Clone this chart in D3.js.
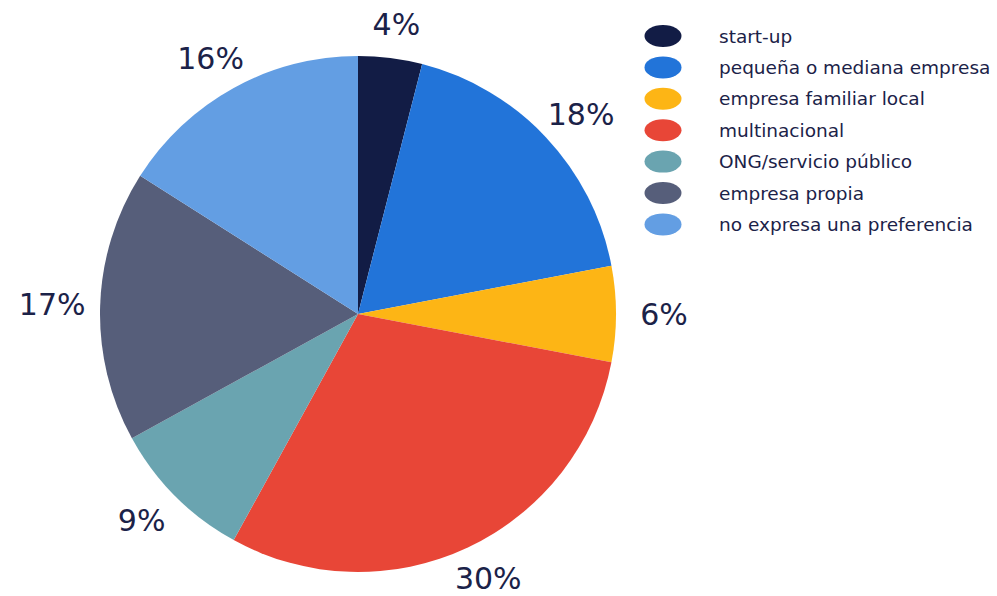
<!DOCTYPE html>
<html>
<head>
<meta charset="utf-8">
<script src="https://cdn.jsdelivr.net/npm/d3@7"></script>
<style>
  body { margin: 0; background: #fff; }
  text { font-family: "DejaVu Sans", Verdana, sans-serif; fill: #1b2248; }
</style>
</head>
<body>
<div id="chart"></div>
<script>
var categories = ["start-up", "pequeña o mediana empresa", "empresa familiar local", "multinacional",
                  "ONG/servicio público", "empresa propia", "no expresa una preferencia"]
var values = [4, 18, 6, 30, 9, 17, 16]
var colors = ["#121c45", "#2274d9", "#fdb515", "#e84637", "#6aa4b0", "#565e7a", "#639ee3"]

var svgSize = { width: 997, height: 596 }

var svg = d3.select("#chart")
    .append("svg")
    .attr("width", svgSize.width)
    .attr("height", svgSize.height)

var center = { x: 358, y: 314 }
var radius = 258

var data = categories.map((c, i) => ({ name: c, value: values[i], color: colors[i] }))

var pie = d3.pie().sort(null).value(d => d.value)
var arc = d3.arc().innerRadius(0).outerRadius(radius)

var frame = svg.append("g")
    .attr("transform", `translate(${center.x}, ${center.y})`)

var arcs = pie(data)

frame.selectAll("path")
    .data(arcs)
    .enter()
    .append("path")
    .attr("d", arc)
    .attr("fill", d => d.data.color)

// labels outside the pie, pushed out by text size
var labelR = 272
frame.selectAll("text.lbl")
    .data(arcs)
    .enter()
    .append("text")
    .attr("class", "lbl")
    .attr("x", d => {
        var a = (d.startAngle + d.endAngle) / 2
        return Math.sin(a) * (labelR + 34)
    })
    .attr("y", d => {
        var a = (d.startAngle + d.endAngle) / 2
        return -Math.cos(a) * (labelR + 20)
    })
    .attr("text-anchor", "middle")
    .attr("dominant-baseline", "central")
    .attr("font-size", 30)
    .text(d => d.data.value + "%")

// legend
var legend = svg.append("g")
    .attr("transform", "translate(663, 36)")

var rows = legend.selectAll("g")
    .data(data)
    .enter()
    .append("g")
    .attr("transform", (d, i) => `translate(0, ${i * 31.4})`)

rows.append("ellipse")
    .attr("rx", 18.5)
    .attr("ry", 11)
    .attr("fill", d => d.color)

rows.append("text")
    .attr("x", 56)
    .attr("dominant-baseline", "central")
    .attr("font-size", 18.5)
    .text(d => d.name)
</script>
</body>
</html>
